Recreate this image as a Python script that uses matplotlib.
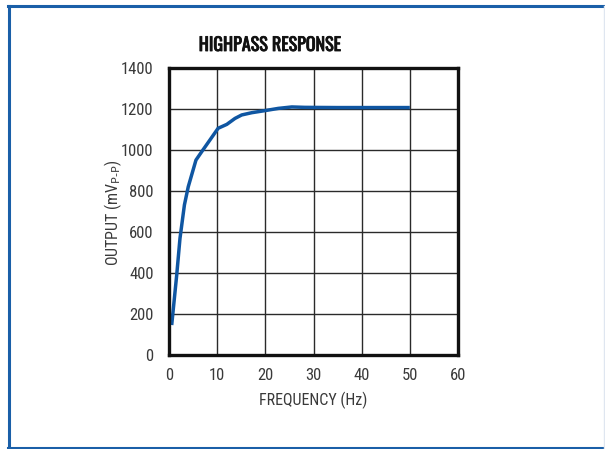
import matplotlib
matplotlib.use("Agg")
import matplotlib.pyplot as plt
from matplotlib.lines import Line2D
import matplotlib.patheffects as pe

freq = [0.56, 1.6, 2.28, 3.2, 4.0, 5.6, 6.8, 8.5, 10.2, 12.0, 13.7, 15.1, 17.2, 19.9, 22.7, 25.5, 28.2, 35, 42, 50]
output = [146, 390, 569, 732, 821, 951, 992, 1049, 1106, 1125, 1154, 1171, 1182, 1192, 1203, 1210, 1208, 1207, 1207, 1207]
xticks = [0, 10, 20, 30, 40, 50, 60]
yticks = [0, 200, 400, 600, 800, 1000, 1200, 1400]

plt.rcParams['font.family'] = ['Roboto Condensed', 'Archivo Narrow', 'DejaVu Sans']

W, H = 605, 449
fig = plt.figure(figsize=(W/100, H/100), dpi=100)

frame_c = '#1a5fa8'
def fx(p): return p / W
def fy(p): return 1 - p / H
fig.lines.append(Line2D([fx(8.8), fx(8.8)], [fy(6), fy(448)], transform=fig.transFigure, color=frame_c, linewidth=2.2))
fig.lines.append(Line2D([fx(8), fx(605)], [fy(6), fy(6)], transform=fig.transFigure, color=frame_c, linewidth=2.2))
fig.lines.append(Line2D([fx(8), fx(605)], [fy(447.8), fy(447.8)], transform=fig.transFigure, color=frame_c, linewidth=2.2))
fig.lines.append(Line2D([fx(604), fx(604)], [fy(6), fy(448)], transform=fig.transFigure, color='#dfe6f0', linewidth=1))

ax = fig.add_axes([169/W, 1-355/H, (458-169)/W, (355-68)/H])
ax.plot(freq, output, color='#0f56a2', linewidth=2.5, solid_capstyle='butt', solid_joinstyle='round')
ax.set_xlim(0, 60)
ax.set_ylim(0, 1400)
ax.set_xticks(xticks)
ax.set_yticks(yticks)
ax.grid(True, color='#2a2a2a', linewidth=1.0)
ax.tick_params(length=0, labelsize=12, colors='#3a3a3a')
ax.tick_params(axis='x', pad=9)
ax.tick_params(axis='y', pad=11)
for s in ax.spines.values():
    s.set_linewidth(2.4)
    s.set_color('#111111')
ax.set_xlabel('FREQUENCY (Hz)', fontsize=11.5, color='#3a3a3a')
ax.set_ylabel(r'OUTPUT (mV$_{\text{P-P}}$)', fontsize=11.5, color='#3a3a3a')
ax.xaxis.label.set_va('center')
ax.yaxis.label.set_va('center')
ax.xaxis.set_label_coords(0.5, (355-400)/287)
ax.yaxis.set_label_coords((113-169)/289, (355-213)/287)
fig.text(fx(270), fy(45), 'HIGHPASS RESPONSE', ha='center', va='center',
         fontsize=13, fontweight='bold', color='#111111',
         family=['Oswald', 'Roboto Condensed', 'DejaVu Sans'],
         path_effects=[pe.withStroke(linewidth=0.6, foreground='#111111')])
fig.savefig('out.png', dpi=100)
